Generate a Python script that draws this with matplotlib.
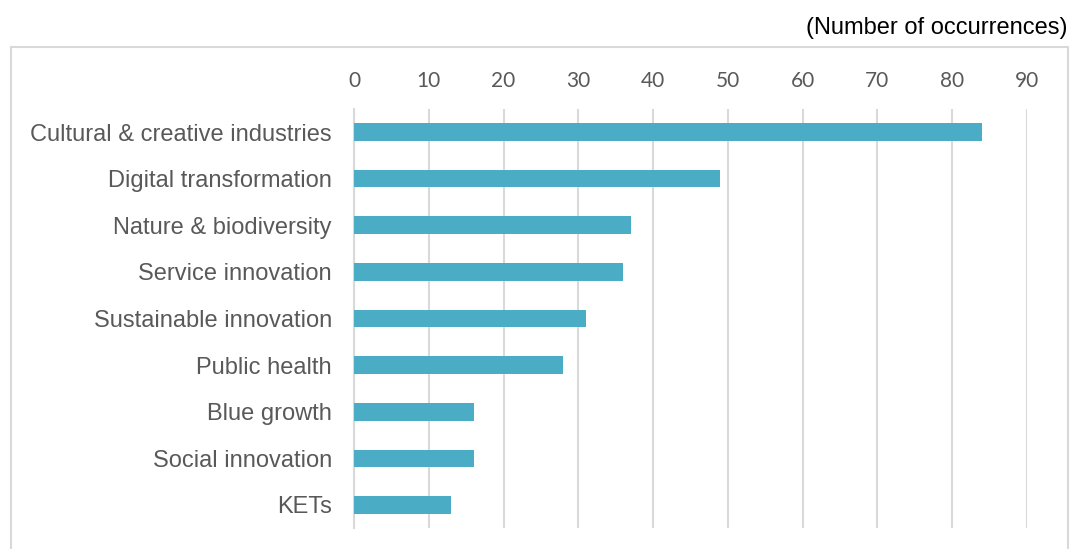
import matplotlib
matplotlib.use("Agg")
import matplotlib.pyplot as plt
from matplotlib.patches import Rectangle

categories = ["Cultural & creative industries", "Digital transformation", "Nature & biodiversity",
              "Service innovation", "Sustainable innovation", "Public health", "Blue growth",
              "Social innovation", "KETs"]
values = [84, 49, 37, 36, 31, 28, 16, 16, 13]
xticks = [0, 10, 20, 30, 40, 50, 60, 70, 80, 90]

W, H = 1071, 549
fig = plt.figure(figsize=(W / 100, H / 100), dpi=100)
fig.patch.set_facecolor("white")

# outer frame
fig.patches.append(Rectangle((11 / W, -0.05), (1068 - 11) / W, 1.05 - 47 / H,
                             transform=fig.transFigure, fill=False,
                             edgecolor="#d9d9d9", linewidth=1.5, zorder=0))

ax = fig.add_axes([354 / W, 1 - 528.3 / H, (1027 - 354) / W, (528.3 - 108.7) / H])
ypos = list(range(len(categories)))
ax.barh(ypos, values, height=0.38, color="#4bacc6", zorder=3)
ax.set_ylim(len(categories) - 0.5, -0.5)
ax.set_xlim(0, 90)
ax.set_xticks(xticks)
ax.set_xticklabels([str(t) for t in xticks], fontfamily="Lato", fontsize=15, color="#595959")
ax.xaxis.tick_top()
ax.tick_params(axis="x", length=0, pad=13)
ax.set_yticks(ypos)
ax.set_yticklabels(categories, fontfamily="Liberation Sans", fontsize=17, color="#595959")
ax.tick_params(axis="y", length=0, pad=16)
ax.grid(axis="x", color="#d9d9d9", linewidth=1.5, zorder=0)
for s in ["top", "right", "bottom"]:
    ax.spines[s].set_visible(False)
ax.spines["left"].set_color("#d9d9d9")
ax.spines["left"].set_linewidth(1.5)
ax.set_facecolor("none")

fig.text(1068 / W, 1 - 28 / H, "(Number of occurrences)", ha="right", va="center",
         fontfamily="Liberation Sans", fontsize=17, color="black")

fig.savefig("out.png", dpi=100)
